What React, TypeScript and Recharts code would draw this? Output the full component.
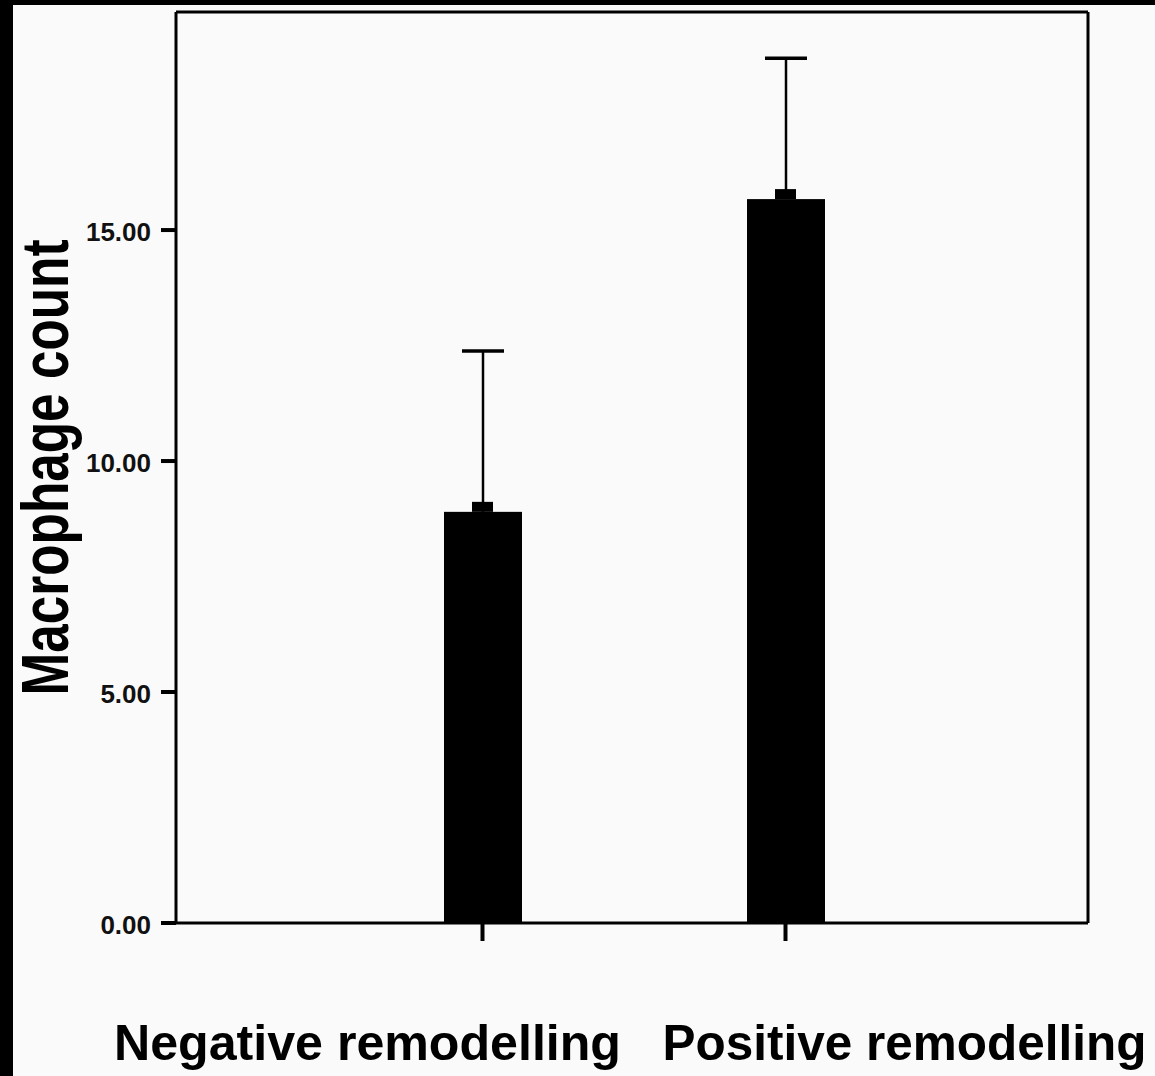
import React from "react";
import { BarChart, Bar, XAxis, YAxis } from "recharts";

// values (SPSS style bar chart with +1 SE whiskers)
const categories = ["Negative remodelling", "Positive remodelling"];
const means = [8.9, 15.67];
const upperErr = [12.38, 18.72];
const yTicks = [0, 5, 10, 15];

const Y_MAX = 19.72;
const FONT = "'Liberation Sans', Arial, sans-serif";

const data = categories.map((name, i) => ({
  name,
  mean: means[i],
  upper: upperErr[i],
}));

// label offsets relative to the category tick, and rendered widths
const LABEL_SHIFT = [-115, 119];
const LABEL_LEN = [507, 484];
const PAD = { left: 155, right: 151 };
const frameLine = { stroke: "#000", strokeWidth: 3 };

const BarWithError = (props: any) => {
  const { x, y, width, height, payload } = props;
  const perUnit = height / payload.mean;
  const errY = y - (payload.upper - payload.mean) * perUnit;
  const cx = x + width / 2;
  return (
    <g>
      <rect x={x} y={y} width={width} height={height} fill="#000" />
      <rect x={cx - 11} y={y - 10} width={21} height={10} fill="#000" />
      <line x1={cx} x2={cx} y1={y} y2={errY} stroke="#000" strokeWidth={2.5} />
      <line x1={cx - 21} x2={cx + 21} y1={errY} y2={errY} stroke="#000" strokeWidth={3.5} />
    </g>
  );
};

const XTick = (props: any) => {
  const { x, payload, index } = props;
  return (
    <text
      x={x + LABEL_SHIFT[index]}
      y={1060}
      textAnchor="middle"
      fontFamily={FONT}
      fontWeight="bold"
      fontSize={50}
      fill="#000"
      textLength={LABEL_LEN[index]}
      lengthAdjust="spacingAndGlyphs"
    >
      {payload.value}
    </text>
  );
};

const YTick = (props: any) => {
  const { y, payload } = props;
  return (
    <text
      x={151}
      y={y + 11}
      textAnchor="end"
      fontFamily={FONT}
      fontWeight="bold"
      fontSize={26}
      fill="#111"
    >
      {Number(payload.value).toFixed(2)}
    </text>
  );
};

const YLabel = (props: any) => {
  const { viewBox } = props;
  const cx = viewBox.x + 44;
  const cy = viewBox.y + viewBox.height / 2;
  return (
    <text
      transform={`translate(${cx}, ${cy}) rotate(-90)`}
      x={0}
      y={0}
      dy={24}
      textAnchor="middle"
      fontFamily={FONT}
      fontWeight="bold"
      fontSize={66}
      fill="#000"
      textLength={456}
      lengthAdjust="spacingAndGlyphs"
    >
      Macrophage count
    </text>
  );
};

export default function App() {
  return (
    <div
      style={{
        position: "absolute",
        left: 0,
        top: 0,
        width: 1155,
        height: 1076,
        background: "#fafafa",
        overflow: "hidden",
      }}
    >
      <BarChart
        width={1155}
        height={1076}
        data={data}
        margin={{ top: 11, right: 66, bottom: 0, left: 0 }}
      >
        <XAxis
          dataKey="name"
          height={153}
          padding={PAD}
          axisLine={frameLine}
          tickLine={{ stroke: "#000", strokeWidth: 4 }}
          tickSize={18}
          tick={<XTick />}
          interval={0}
        />
        <XAxis
          xAxisId="top"
          dataKey="name"
          orientation="top"
          height={1}
          padding={PAD}
          axisLine={frameLine}
          tick={false}
          tickLine={false}
        />
        <YAxis
          width={176}
          domain={[0, Y_MAX]}
          ticks={yTicks}
          axisLine={frameLine}
          tickLine={{ stroke: "#000", strokeWidth: 4 }}
          tickSize={15}
          tick={<YTick />}
          label={<YLabel />}
          allowDataOverflow
        />
        <YAxis
          yAxisId="right"
          orientation="right"
          width={1}
          domain={[0, Y_MAX]}
          axisLine={frameLine}
          tick={false}
          tickLine={false}
        />
        <Bar
          dataKey="mean"
          barSize={78}
          fill="#000"
          shape={<BarWithError />}
          isAnimationActive={false}
        />
        {/* invisible series so the frame axes are drawn */}
        <Bar
          dataKey="mean"
          xAxisId="top"
          yAxisId="right"
          barSize={78}
          shape={() => <g />}
          isAnimationActive={false}
        />
      </BarChart>
      <div style={{ position: "absolute", left: 0, top: 0, width: 13, height: 1076, background: "#000" }} />
      <div style={{ position: "absolute", left: 0, top: 0, width: 1155, height: 5, background: "#000" }} />
    </div>
  );
}
